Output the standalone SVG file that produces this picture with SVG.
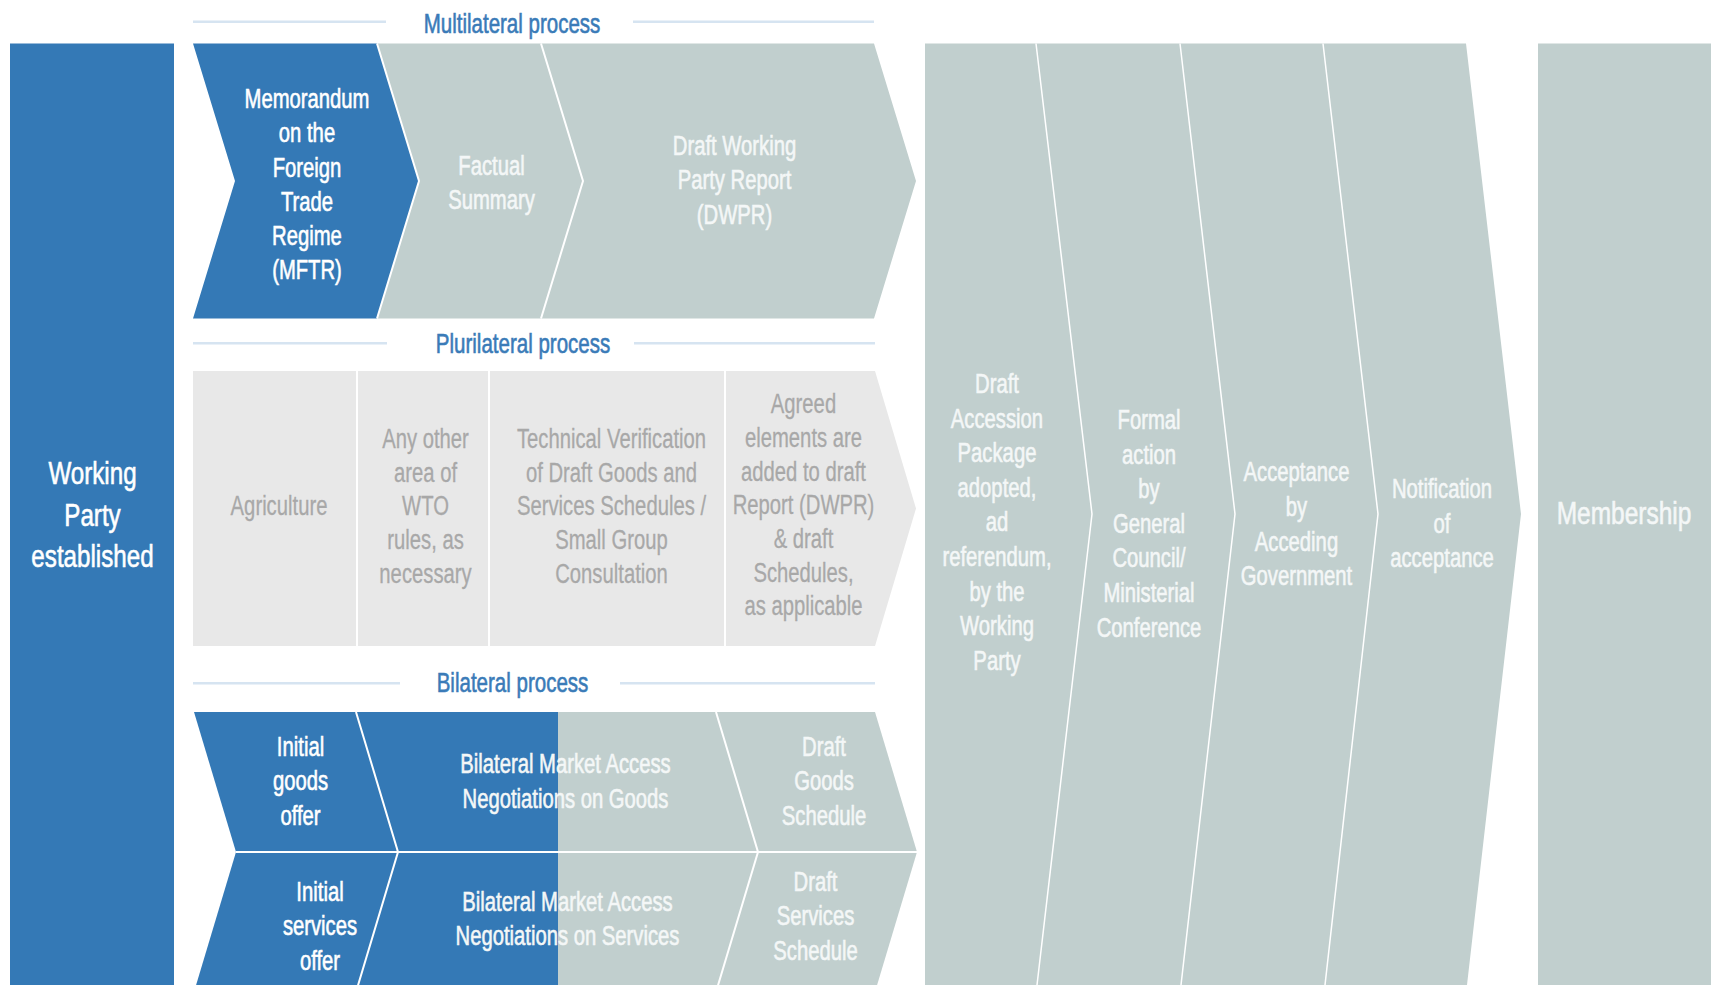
<svg xmlns="http://www.w3.org/2000/svg" width="1712" height="985" viewBox="0 0 1712 985">
<style>
.t{font-family:"Liberation Sans",Arial,sans-serif;font-size:27px;text-anchor:middle;stroke-width:0.6}
.big{font-size:31px}
.w{fill:#ffffff;stroke:#ffffff}
.wg{fill:#f4f7f7;stroke:#f4f7f7}
.g{fill:#a8a8a8;stroke:#a8a8a8;stroke-width:0.3}
.lbl{fill:#3a7bb8;stroke:#3a7bb8}
.blue{fill:#3479b6}
.sage{fill:#c1cfce}
.lite{fill:#e8e8e8}
.sep{stroke:#ffffff;stroke-width:2;fill:none}
.septhin{stroke:#ffffff;stroke-width:1.5;fill:none}
.rule{stroke:#d6e4f1;stroke-width:2.5}
</style>
<rect width="1712" height="985" fill="#ffffff"/>

<g id="section-labels">
  <line class="rule" x1="193" y1="21.7" x2="386" y2="21.7"/>
  <line class="rule" x1="633" y1="21.7" x2="874" y2="21.7"/>
  <text class="t lbl" transform="translate(512 0) scale(0.76 1)" x="0" y="33">Multilateral process</text>
  <line class="rule" x1="193" y1="343.3" x2="387" y2="343.3"/>
  <line class="rule" x1="634" y1="343.3" x2="875" y2="343.3"/>
  <text class="t lbl" transform="translate(523 0) scale(0.76 1)" x="0" y="353.5">Plurilateral process</text>
  <line class="rule" x1="193" y1="683.3" x2="400" y2="683.3"/>
  <line class="rule" x1="620" y1="683.3" x2="875" y2="683.3"/>
  <text class="t lbl" transform="translate(512.5 0) scale(0.76 1)" x="0" y="692">Bilateral process</text>
</g>

<g id="working-party">
  <rect class="blue" x="10" y="43.5" width="164" height="942"/>
  <g class="t big w" transform="translate(92.5 0) scale(0.78 1)">
    <text x="0" y="484">Working</text>
    <text x="0" y="526">Party</text>
    <text x="0" y="567.5">established</text>
  </g>
</g>

<g id="mftr">
  <polygon class="blue" points="193,43.5 377,43.5 419,181 377,318.5 193,318.5 235,181"/>
  <g class="t w" transform="translate(307 0) scale(0.75 1)">
    <text x="0" y="108">Memorandum</text>
    <text x="0" y="142.3">on the</text>
    <text x="0" y="176.6">Foreign</text>
    <text x="0" y="210.9">Trade</text>
    <text x="0" y="245.2">Regime</text>
    <text x="0" y="279.5">(MFTR)</text>
  </g>
</g>

<g id="factual-summary">
  <polygon class="sage" points="377,43.5 541,43.5 583,181 541,318.5 377,318.5 419,181"/>
  <g class="t wg" transform="translate(491.5 0) scale(0.75 1)">
    <text x="0" y="175">Factual</text>
    <text x="0" y="209.5">Summary</text>
  </g>
</g>

<g id="dwpr">
  <polygon class="sage" points="541,43.5 874,43.5 916,181 874,318.5 541,318.5 583,181"/>
  <g class="t wg" transform="translate(734.5 0) scale(0.75 1)">
    <text x="0" y="155">Draft Working</text>
    <text x="0" y="189.5">Party Report</text>
    <text x="0" y="224">(DWPR)</text>
  </g>
</g>

<g id="agriculture">
  <rect class="lite" x="193" y="371" width="164" height="275"/>
  <g class="t g" transform="translate(279 0) scale(0.75 1)">
    <text x="0" y="515">Agriculture</text>
  </g>
</g>

<g id="other-wto-rules">
  <rect class="lite" x="357" y="371" width="132" height="275"/>
  <g class="t g" transform="translate(425.5 0) scale(0.75 1)">
    <text x="0" y="448">Any other</text>
    <text x="0" y="481.7">area of</text>
    <text x="0" y="515.4">WTO</text>
    <text x="0" y="549.1">rules, as</text>
    <text x="0" y="582.8">necessary</text>
  </g>
</g>

<g id="technical-verification">
  <rect class="lite" x="489" y="371" width="236" height="275"/>
  <g class="t g" transform="translate(611.5 0) scale(0.75 1)">
    <text x="0" y="448">Technical Verification</text>
    <text x="0" y="481.7">of Draft Goods and</text>
    <text x="0" y="515.4">Services Schedules /</text>
    <text x="0" y="549.1">Small Group</text>
    <text x="0" y="582.8">Consultation</text>
  </g>
</g>

<g id="agreed-elements">
  <polygon class="lite" points="725,371 875,371 916,508.5 875,646 725,646"/>
  <g class="t g" transform="translate(803.5 0) scale(0.75 1)">
    <text x="0" y="413.3">Agreed</text>
    <text x="0" y="447">elements are</text>
    <text x="0" y="480.7">added to draft</text>
    <text x="0" y="514.4">Report (DWPR)</text>
    <text x="0" y="548.1">&amp; draft</text>
    <text x="0" y="581.8">Schedules,</text>
    <text x="0" y="615.5">as applicable</text>
  </g>
</g>

<g id="initial-goods-offer">
  <polygon class="blue" points="194,712 356,712 398,852 236,852"/>
  <g class="t w" transform="translate(300.5 0) scale(0.75 1)">
    <text x="0" y="756">Initial</text>
    <text x="0" y="790.5">goods</text>
    <text x="0" y="825">offer</text>
  </g>
</g>

<g id="initial-services-offer">
  <polygon class="blue" points="236,852 398,852 356,992 194,992"/>
  <g class="t w" transform="translate(320 0) scale(0.75 1)">
    <text x="0" y="901">Initial</text>
    <text x="0" y="935.5">services</text>
    <text x="0" y="970">offer</text>
  </g>
</g>

<g id="negotiations-goods">
  <polygon class="blue" points="356,712 558,712 558,852 398,852"/>
  <polygon class="sage" points="558,712 716,712 758,852 558,852"/>
  <g class="t wg" transform="translate(565.5 0) scale(0.75 1)">
    <text x="0" y="773.5">Bilateral Market Access</text>
    <text x="0" y="808">Negotiations on Goods</text>
  </g>
</g>

<g id="negotiations-services">
  <polygon class="blue" points="398,852 558,852 558,992 356,992"/>
  <polygon class="sage" points="558,852 758,852 716,992 558,992"/>
  <g class="t wg" transform="translate(567.5 0) scale(0.75 1)">
    <text x="0" y="911">Bilateral Market Access</text>
    <text x="0" y="945.5">Negotiations on Services</text>
  </g>
</g>

<g id="draft-goods-schedule">
  <polygon class="sage" points="716,712 875,712 917,852 758,852"/>
  <g class="t wg" transform="translate(824 0) scale(0.75 1)">
    <text x="0" y="756">Draft</text>
    <text x="0" y="790.5">Goods</text>
    <text x="0" y="825">Schedule</text>
  </g>
</g>

<g id="draft-services-schedule">
  <polygon class="sage" points="758,852 917,852 875,992 716,992"/>
  <g class="t wg" transform="translate(815.5 0) scale(0.75 1)">
    <text x="0" y="891">Draft</text>
    <text x="0" y="925.5">Services</text>
    <text x="0" y="960">Schedule</text>
  </g>
</g>

<g id="draft-accession-package">
  <polygon class="sage" points="925,43.5 1036,43.5 1092,514 1037,985 925,985"/>
  <g class="t wg" transform="translate(997 0) scale(0.75 1)">
    <text x="0" y="393">Draft</text>
    <text x="0" y="427.6">Accession</text>
    <text x="0" y="462.2">Package</text>
    <text x="0" y="496.8">adopted,</text>
    <text x="0" y="531.4">ad</text>
    <text x="0" y="566">referendum,</text>
    <text x="0" y="600.6">by the</text>
    <text x="0" y="635.2">Working</text>
    <text x="0" y="669.8">Party</text>
  </g>
</g>

<g id="formal-action">
  <polygon class="sage" points="1036,43.5 1180,43.5 1235,514 1181,985 1037,985 1092,514"/>
  <g class="t wg" transform="translate(1149 0) scale(0.75 1)">
    <text x="0" y="429">Formal</text>
    <text x="0" y="463.6">action</text>
    <text x="0" y="498.2">by</text>
    <text x="0" y="532.8">General</text>
    <text x="0" y="567.4">Council/</text>
    <text x="0" y="602">Ministerial</text>
    <text x="0" y="636.6">Conference</text>
  </g>
</g>

<g id="acceptance">
  <polygon class="sage" points="1180,43.5 1323,43.5 1378,514 1325,985 1181,985 1235,514"/>
  <g class="t wg" transform="translate(1296.5 0) scale(0.75 1)">
    <text x="0" y="481.5">Acceptance</text>
    <text x="0" y="516">by</text>
    <text x="0" y="550.7">Acceding</text>
    <text x="0" y="585.3">Government</text>
  </g>
</g>

<g id="notification">
  <polygon class="sage" points="1323,43.5 1466,43.5 1521,514 1467,985 1325,985 1378,514"/>
  <g class="t wg" transform="translate(1442 0) scale(0.75 1)">
    <text x="0" y="498.3">Notification</text>
    <text x="0" y="532.9">of</text>
    <text x="0" y="567.5">acceptance</text>
  </g>
</g>

<g id="membership">
  <rect class="sage" x="1538" y="43.5" width="173" height="942"/>
  <g class="t big wg" transform="translate(1624 0) scale(0.79 1)">
    <text x="0" y="524">Membership</text>
  </g>
</g>

<g id="connectors">
  <polyline class="sep" points="377,43.5 419,181 377,318.5"/>
  <polyline class="sep" points="541,43.5 583,181 541,318.5"/>
  <line class="sep" x1="357" y1="371" x2="357" y2="646"/>
  <line class="sep" x1="489" y1="371" x2="489" y2="646"/>
  <line class="sep" x1="725" y1="371" x2="725" y2="646"/>
  <polyline class="sep" points="356,712 398,852 356,992"/>
  <polyline class="sep" points="716,712 758,852 716,992"/>
  <line class="sep" x1="236" y1="852" x2="917" y2="852"/>
  <polyline class="septhin" points="1036,43.5 1092,514 1037,985"/>
  <polyline class="septhin" points="1180,43.5 1235,514 1181,985"/>
  <polyline class="septhin" points="1323,43.5 1378,514 1325,985"/>
</g>
</svg>
